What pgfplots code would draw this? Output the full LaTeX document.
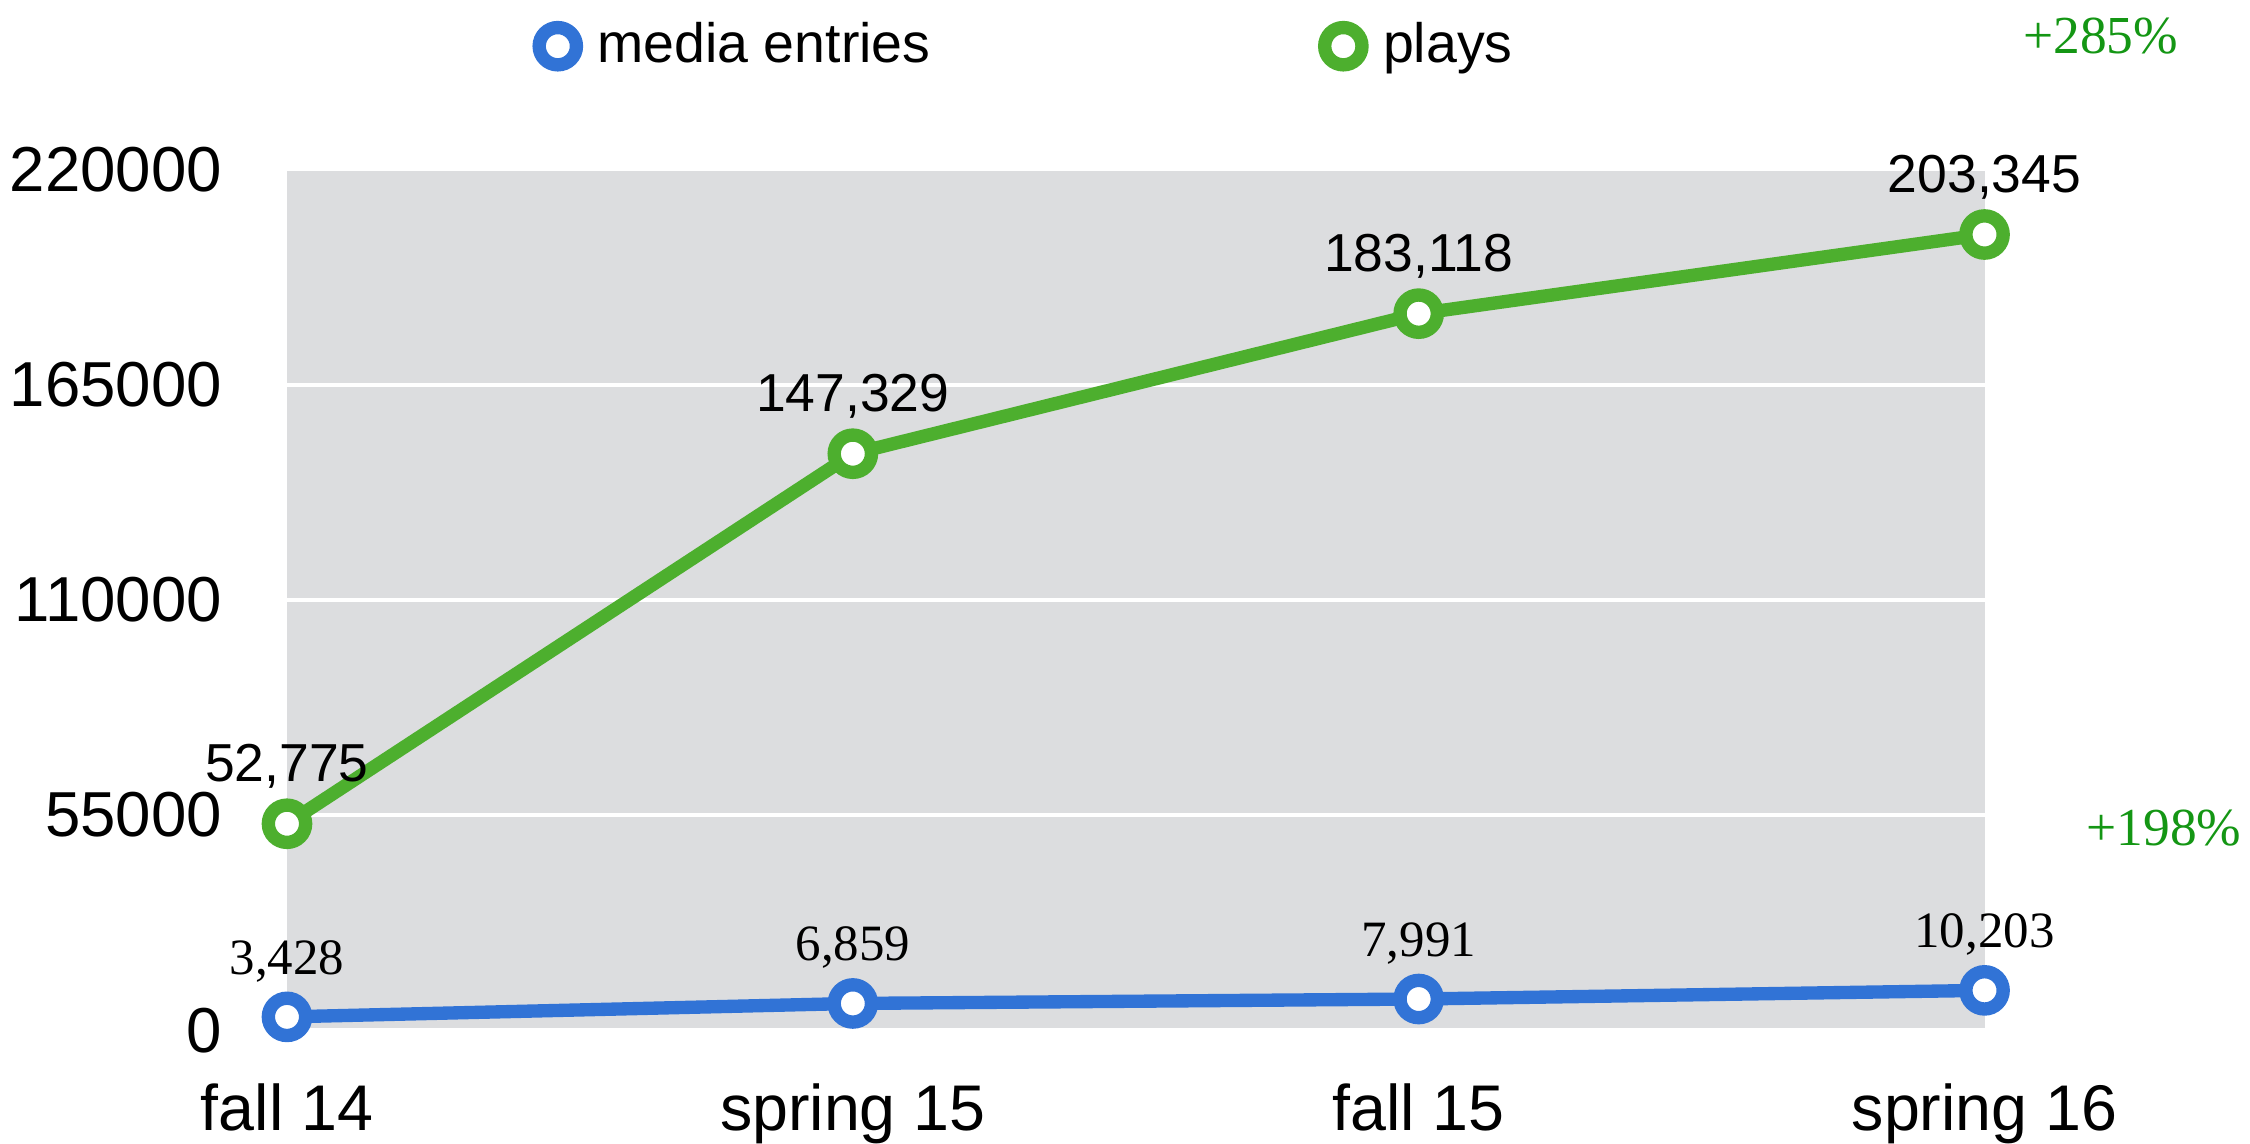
\documentclass[border=0pt]{standalone}
\usepackage{pgfplots}
\pgfplotsset{compat=1.18}
\usepackage{fontspec}
\setmainfont{Liberation Sans}
\newfontfamily\timesfont{Liberation Serif}
\definecolor{mblue}{RGB}{49,115,214}
\definecolor{mgreen}{RGB}{77,175,46}
\definecolor{bggray}{RGB}{220,221,223}
\definecolor{pctgreen}{RGB}{20,150,20}
\begin{document}
\begin{tikzpicture}[x=1cm,y=1cm]
\useasboundingbox (0,0) rectangle (15.68,7.97);
\begin{axis}[
  at={(2.00cm,0.79cm)}, anchor=south west,
  scale only axis, width=11.83cm, height=6.00cm,
  xmin=0, xmax=3, ymin=0, ymax=220000,
  axis background/.style={fill=bggray},
  axis line style={draw=none},
  clip=false,
  xtick={0,1,2,3},
  xticklabels={fall 14, spring 15, fall 15, spring 16},
  ytick={0,55000,110000,165000,220000},
  scaled y ticks=false,
  yticklabel style={/pgf/number format/fixed, /pgf/number format/1000 sep={}, font=\fontsize{12.6}{15}\selectfont, xshift=-0.33cm},
  xticklabel style={font=\fontsize{12.8}{15}\selectfont, yshift=-0.25cm},
  /pgf/number format/assume math mode=true,
  major tick length=0pt,
  ymajorgrids, grid style={white, line width=0.8pt},
  legend columns=2,
  legend style={at={(0.435,1.143)}, anchor=center, draw=none, fill=none,
    font=\fontsize{11}{13}\selectfont, /tikz/every even column/.append style={column sep=2.6cm}},
  legend image code/.code={\draw[#1, mark=none] (0cm,0cm) -- (0.32cm,0cm); \draw[#1] plot coordinates {(0.16cm,0cm)};},
  every axis plot/.append style={line width=0.093cm, mark=*, mark size=0.13cm,
    mark options={fill=white, line width=0.11cm}},
]
\addplot[mblue, mark options={draw=mblue, fill=white},
  nodes near coords, point meta=explicit symbolic,
  every node near coord/.style={anchor=south, yshift=0.08cm, black, font=\timesfont\fontsize{10.1}{12}\selectfont}]
  coordinates {(0,3428)[3,428] (1,6859)[6,859] (2,7991)[7,991] (3,10203)[10,203]};
\addlegendentry{media entries}
\addplot[mgreen, mark options={draw=mgreen, fill=white},
  nodes near coords, point meta=explicit symbolic,
  every node near coord/.style={anchor=south, yshift=0.08cm, black, font=\fontsize{10.6}{12}\selectfont}]
  coordinates {(0,52775)[52,775] (1,147329)[147,329] (2,183118)[183,118] (3,203345)[203,345]};
\addlegendentry{plays}
\end{axis}
\node[pctgreen, font=\timesfont\fontsize{10.6}{12}\selectfont] at (14.64,7.72) {+285\%};
\node[pctgreen, font=\timesfont\fontsize{10.6}{12}\selectfont] at (15.08,2.20) {+198\%};
\end{tikzpicture}
\end{document}
